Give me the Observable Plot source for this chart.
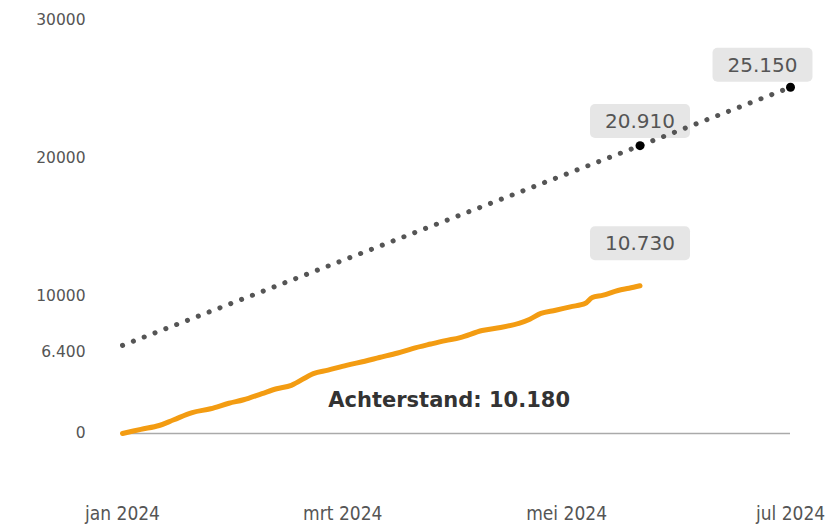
<!DOCTYPE html>
<html>
<head>
<meta charset="utf-8">
<script src="https://cdn.jsdelivr.net/npm/d3@7"></script>
<script src="https://cdn.jsdelivr.net/npm/@observablehq/plot@0.6"></script>
<style>
  html, body { margin: 0; padding: 0; background: #fff; }
  #chart { width: 837px; height: 529px; }
</style>
</head>
<body>
<div id="chart"></div>
<script>
// Target (dotted) line
const targetDates = ["2024-01-01", "2024-05-21", "2024-07-01"];
const targetValues = [6400, 20910, 25150];
// Highlighted target points
const markedDates = ["2024-05-21", "2024-07-01"];
const markedValues = [20910, 25150];
const markedLabels = ["20.910", "25.150"];

// Actual (orange) line
const actualDates = [
  "2024-01-01","2024-01-06","2024-01-11","2024-01-15","2024-01-20","2024-01-25","2024-01-30",
  "2024-02-03","2024-02-08","2024-02-12","2024-02-16","2024-02-22","2024-02-26",
  "2024-03-02","2024-03-07","2024-03-11","2024-03-16","2024-03-20","2024-03-25","2024-03-29",
  "2024-04-02","2024-04-08","2024-04-13","2024-04-18","2024-04-21","2024-04-24","2024-04-28",
  "2024-05-02","2024-05-06","2024-05-08","2024-05-11","2024-05-15","2024-05-18","2024-05-21"
];
const actualValues = [
  0, 300, 580, 1000, 1520, 1800, 2200,
  2450, 2900, 3250, 3500, 4350, 4600,
  4950, 5250, 5520, 5850, 6170, 6500, 6750,
  6970, 7480, 7700, 8000, 8300, 8720, 8950,
  9200, 9440, 9880, 10050, 10390, 10550, 10730
];
const actualLastLabel = "10.730";

// Gap annotation
const gapLabel = "Achterstand: 10.180";
const gapDate = "2024-03-30";
const gapValue = 2400;

// Axis ticks
const xTicks = ["2024-01-01", "2024-03-01", "2024-05-01", "2024-07-01"];
const xTickLabels = ["jan 2024", "mrt 2024", "mei 2024", "jul 2024"];
const yTicks = [0, 10000, 20000, 30000];
const yTickLabels = ["0", "10000", "20000", "30000"];
const yStartTick = [6400];
const yStartTickLabel = ["6.400"];

const parse = d3.utcParse("%Y-%m-%d");
const target = targetDates.map((d, i) => ({date: parse(d), value: targetValues[i]}));
const actual = actualDates.map((d, i) => ({date: parse(d), value: actualValues[i]}));
const marked = markedDates.map((d, i) => ({date: parse(d), value: markedValues[i], label: markedLabels[i]}));
const lastActual = [{...actual[actual.length - 1], label: actualLastLabel}];
const gap = [{date: parse(gapDate), value: gapValue, label: gapLabel}];
const xTickDates = xTicks.map(parse);
const xLabelMap = new Map(xTickDates.map((d, i) => [+d, xTickLabels[i]]));
const yLabelMap = new Map(yTicks.map((v, i) => [v, yTickLabels[i]]));
yStartTick.forEach((v, i) => yLabelMap.set(v, yStartTickLabel[i]));

const labelFont = "'DejaVu Sans', Verdana, sans-serif";

const chart = Plot.plot({
  width: 837,
  height: 529,
  marginLeft: 122,
  marginRight: 47,
  marginTop: 20,
  marginBottom: 96,
  style: {fontFamily: labelFont, background: "#fff", overflow: "visible"},
  x: {type: "utc", domain: [parse("2024-01-01"), parse("2024-07-01")]},
  y: {domain: [0, 30000]},
  marks: [
    Plot.axisY({ticks: yTicks, tickFormat: v => yLabelMap.get(v), tickSize: 0, tickPadding: 37,
      fontSize: 15.5, fill: "#555", label: null}),
    Plot.axisY({ticks: yStartTick, tickFormat: v => yLabelMap.get(v), tickSize: 0, tickPadding: 37,
      fontSize: 15.5, fill: "#555", label: null, dy: 7}),
    Plot.axisX({ticks: xTickDates, tickFormat: d => xLabelMap.get(+d), tickSize: 0, tickPadding: 73,
      fontSize: 19, fill: "#555", label: null, fontFamily: "'DejaVu Sans Condensed', 'DejaVu Sans', sans-serif"}),
    Plot.ruleY([0], {stroke: "#aaa", strokeWidth: 1.5}),
    Plot.text([marked[0]], {x: "date", y: "value", text: "label", dy: -24, fontSize: 20,
      fill: "#555", className: "vlabel"}),
    Plot.text([marked[1]], {x: "date", y: "value", text: "label", dx: -28, dy: -22, fontSize: 20,
      fill: "#555", className: "vlabel"}),
    Plot.text(lastActual, {x: "date", y: "value", text: "label", dy: -42, fontSize: 20,
      fill: "#555", className: "vlabel"}),
    Plot.line(target, {x: "date", y: "value", stroke: "#555", strokeWidth: 5,
      strokeDasharray: "0.1,11.5", strokeLinecap: "round"}),
    Plot.line(actual, {x: "date", y: "value", stroke: "#f39c12", strokeWidth: 5,
      strokeLinecap: "round", strokeLinejoin: "round", curve: "catmull-rom"}),
    Plot.dot(marked, {x: "date", y: "value", r: 4.5, fill: "#000"}),
    Plot.text(gap, {x: "date", y: "value", text: "label", fontSize: 21, fontWeight: "bold",
      fill: "#333"})
  ]
});
document.getElementById("chart").appendChild(chart);

// Grey rounded boxes behind the value labels
chart.querySelectorAll("g.vlabel text").forEach(t => {
  const b = t.getBBox();
  const padX = 15, padY = 5;
  const rect = document.createElementNS("http://www.w3.org/2000/svg", "rect");
  rect.setAttribute("x", b.x - padX);
  rect.setAttribute("y", b.y - padY);
  rect.setAttribute("width", b.width + 2 * padX);
  rect.setAttribute("height", b.height + 2 * padY);
  rect.setAttribute("rx", 5);
  rect.setAttribute("fill", "#e6e6e6");
  const tr = t.getAttribute("transform");
  if (tr) rect.setAttribute("transform", tr);
  t.parentNode.insertBefore(rect, t);
});
</script>
</body>
</html>
